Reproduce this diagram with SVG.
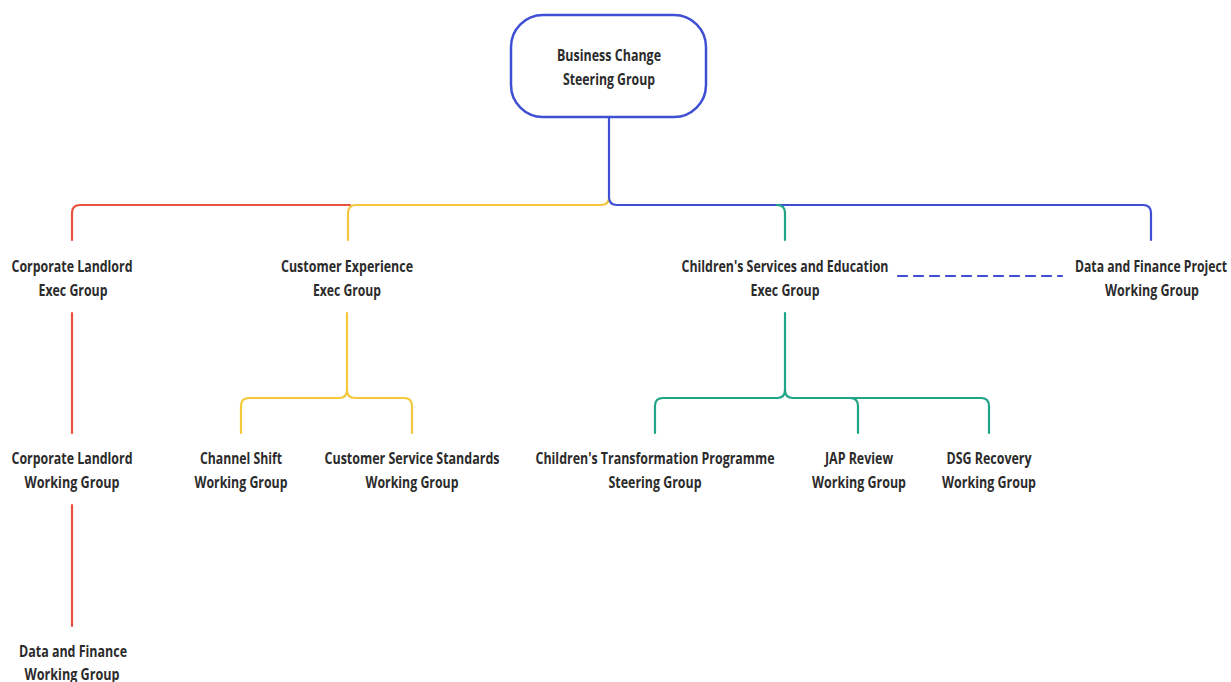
<svg xmlns="http://www.w3.org/2000/svg" width="1231" height="682" viewBox="0 0 1231 682">
<style>
text{font-family:"Open Sans","Liberation Sans",sans-serif;font-weight:bold;font-size:15.5px;fill:#2b2b2b;text-anchor:middle}
.c{fill:none;stroke-width:2.2;stroke-linecap:round;stroke-linejoin:round}
.r{stroke:#e8513a}.y{stroke:#f3c83c}.b{stroke:#3f4fd3}.g{stroke:#1fa487}
</style>
<rect width="1231" height="682" fill="#ffffff"/>
<g id="connectors">
<path class="c r" d="M350,205 H80 Q72,205 72,213 V240"/>
<path class="c y" d="M609,197 Q609,205 601,205 H356 Q348,205 348,213 V240"/>
<path class="c b" d="M609,117 V197 Q609,205 617,205 H1143 Q1151,205 1151,213 V240"/>
<path class="c g" d="M777,205 Q785,205 785,213 V240"/>
<path class="c b" d="M898,276 H1062" stroke-dasharray="9,7" stroke-linecap="butt"/>
<path class="c r" d="M72,313 V433"/>
<path class="c y" d="M347,313 V390 Q347,398 339,398 H249 Q241,398 241,406 V433"/>
<path class="c y" d="M347,390 Q347,398 355,398 H404 Q412,398 412,406 V433"/>
<path class="c g" d="M785,313 V390 Q785,398 777,398 H663 Q655,398 655,406 V433"/>
<path class="c g" d="M785,390 Q785,398 793,398 H981 Q989,398 989,406 V433"/>
<path class="c g" d="M850,398 Q858,398 858,406 V433"/>
<path class="c r" d="M72,505 V626"/>
</g>
<g id="root">
<rect x="511" y="15" width="195" height="102" rx="32" fill="#ffffff" stroke="#3f4fd3" stroke-width="2.5"/>
<text x="609" y="61" textLength="104" lengthAdjust="spacingAndGlyphs">Business Change</text>
<text x="609" y="85" textLength="92" lengthAdjust="spacingAndGlyphs">Steering Group</text>
</g>
<g id="corporate-landlord-exec">
<text x="72" y="272" textLength="121" lengthAdjust="spacingAndGlyphs">Corporate Landlord</text>
<text x="73" y="296" textLength="69" lengthAdjust="spacingAndGlyphs">Exec Group</text>
</g>
<g id="customer-experience-exec">
<text x="347" y="272" textLength="132" lengthAdjust="spacingAndGlyphs">Customer Experience</text>
<text x="347" y="296" textLength="68" lengthAdjust="spacingAndGlyphs">Exec Group</text>
</g>
<g id="childrens-exec">
<text x="785" y="272" textLength="207" lengthAdjust="spacingAndGlyphs">Children's Services and Education</text>
<text x="785" y="296" textLength="69" lengthAdjust="spacingAndGlyphs">Exec Group</text>
</g>
<g id="data-finance-project">
<text x="1151" y="272" textLength="152" lengthAdjust="spacingAndGlyphs">Data and Finance Project</text>
<text x="1152" y="296" textLength="94" lengthAdjust="spacingAndGlyphs">Working Group</text>
</g>
<g id="corporate-landlord-working">
<text x="72" y="464" textLength="121" lengthAdjust="spacingAndGlyphs">Corporate Landlord</text>
<text x="72" y="488" textLength="95" lengthAdjust="spacingAndGlyphs">Working Group</text>
</g>
<g id="channel-shift">
<text x="241" y="464" textLength="82" lengthAdjust="spacingAndGlyphs">Channel Shift</text>
<text x="241" y="488" textLength="93" lengthAdjust="spacingAndGlyphs">Working Group</text>
</g>
<g id="customer-service-standards">
<text x="412" y="464" textLength="175" lengthAdjust="spacingAndGlyphs">Customer Service Standards</text>
<text x="412" y="488" textLength="93" lengthAdjust="spacingAndGlyphs">Working Group</text>
</g>
<g id="childrens-transformation">
<text x="655" y="464" textLength="239" lengthAdjust="spacingAndGlyphs">Children's Transformation Programme</text>
<text x="655" y="488" textLength="93" lengthAdjust="spacingAndGlyphs">Steering Group</text>
</g>
<g id="jap-review">
<text x="859" y="464" textLength="68" lengthAdjust="spacingAndGlyphs">JAP Review</text>
<text x="859" y="488" textLength="94" lengthAdjust="spacingAndGlyphs">Working Group</text>
</g>
<g id="dsg-recovery">
<text x="989" y="464" textLength="85" lengthAdjust="spacingAndGlyphs">DSG Recovery</text>
<text x="989" y="488" textLength="94" lengthAdjust="spacingAndGlyphs">Working Group</text>
</g>
<g id="data-finance-working">
<text x="73" y="657" textLength="108" lengthAdjust="spacingAndGlyphs">Data and Finance</text>
<text x="72" y="680" textLength="95" lengthAdjust="spacingAndGlyphs">Working Group</text>
</g>
</svg>
